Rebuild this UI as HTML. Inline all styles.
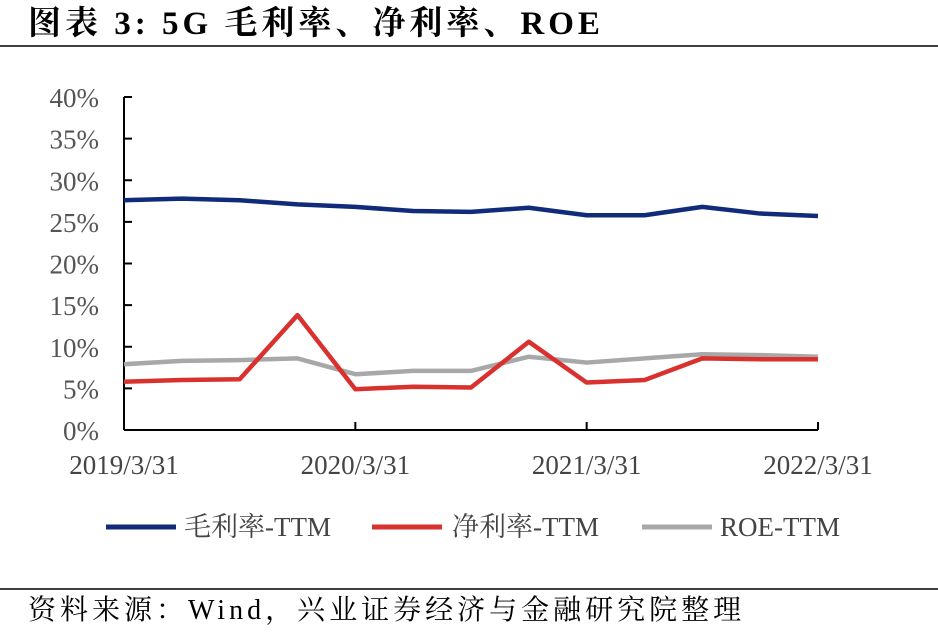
<!DOCTYPE html>
<html><head><meta charset="utf-8"><style>
body{margin:0;background:#fff;width:938px;height:632px;overflow:hidden;font-family:"Liberation Serif","Noto Serif CJK SC",serif;}
</style></head><body>
<svg width="938" height="632">
<text x="28" y="34" font-size="33" font-weight="bold" fill="#000" letter-spacing="4" font-family="Liberation Serif, Noto Serif CJK SC, serif">图表 3:  5G 毛利率、净利率、ROE</text>
<line x1="0" y1="46" x2="938" y2="46" stroke="#000" stroke-width="1.5"/>
<g id="axes"></g>
<g id="series"></g>
<g font-size="27" fill="#444">
<line x1="106" y1="527" x2="176" y2="527" stroke="#0f2b7a" stroke-width="5"/><text x="184" y="536">毛利率-TTM</text>
<line x1="372" y1="527" x2="442" y2="527" stroke="#d8312e" stroke-width="5"/><text x="452" y="536">净利率-TTM</text>
<line x1="642" y1="527" x2="712" y2="527" stroke="#a8a8a8" stroke-width="5"/><text x="720" y="536">ROE-TTM</text>
</g>
<line x1="0" y1="589" x2="938" y2="589" stroke="#000" stroke-width="1.5"/>
<text x="28" y="619" font-size="28" letter-spacing="4" fill="#000">资料来源：Wind，兴业证券经济与金融研究院整理</text>
</svg>
<script>
const categories=["2019/3/31","2019/6/30","2019/9/30","2019/12/31","2020/3/31","2020/6/30","2020/9/30","2020/12/31","2021/3/31","2021/6/30","2021/9/30","2021/12/31","2022/3/31"];
const grossMargin=[27.6,27.8,27.6,27.1,26.8,26.3,26.2,26.7,25.8,25.8,26.8,26.0,25.7];
const netMargin=[5.8,6.0,6.1,13.8,4.9,5.2,5.1,10.6,5.7,6.0,8.6,8.5,8.5];
const roe=[7.9,8.3,8.4,8.6,6.7,7.1,7.1,8.8,8.1,8.6,9.1,9.0,8.8];
const yTicks=[0,5,10,15,20,25,30,35,40];
const xLabelIdx=[0,4,8,12];
const NS="http://www.w3.org/2000/svg";
const x0=124,x1=818,yb=430,yt=97;
const xs=i=>x0+(x1-x0)*i/(categories.length-1);
const ys=v=>yb-(yb-yt)*v/40;
const ax=document.getElementById('axes'),se=document.getElementById('series');
function mk(t,a,p){const e=document.createElementNS(NS,t);for(const k in a)e.setAttribute(k,a[k]);p.appendChild(e);return e;}
let e=mk('line',{x1:x0,y1:yt,x2:x0,y2:yb,stroke:'#000','stroke-width':2},ax);


e=mk('line',{x1:x0,y1:yb,x2:x1,y2:yb,stroke:'#000','stroke-width':2},ax);


yTicks.forEach(v=>{
 mk('line',{x1:x0,y1:ys(v),x2:x0+8,y2:ys(v),stroke:'#000','stroke-width':2},ax);
 const t=mk('text',{x:99,y:ys(v)+10,'text-anchor':'end','font-size':27,fill:'#555'},ax);
 t.textContent=v+'%';
 
 
});
xLabelIdx.forEach(i=>{
 mk('line',{x1:xs(i),y1:yb,x2:xs(i),y2:yb-8,stroke:'#000','stroke-width':2},ax);
 const t=mk('text',{x:xs(i),y:474,'text-anchor':'middle','font-size':27,fill:'#444'},ax);
 t.textContent=categories[i];
 
 
});
function line(d,c,n){
 const p=mk('polyline',{points:d.map((v,i)=>xs(i)+','+ys(v)).join(' '),fill:'none',stroke:c,'stroke-width':4.5,'stroke-linejoin':'round'},se);
 
 
}
line(roe,'#a8a8a8','roe-line');
line(netMargin,'#d8312e','net-margin-line');
line(grossMargin,'#0f2b7a','gross-margin-line');
</script>
</body></html>
